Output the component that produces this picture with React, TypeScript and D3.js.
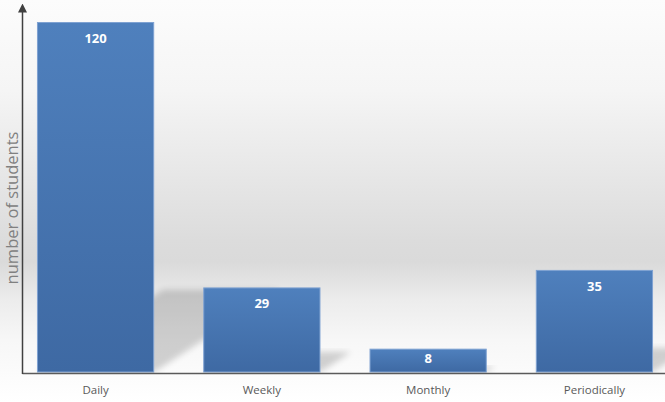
import React from "react";
import * as d3 from "d3";

const categories = ["Daily", "Weekly", "Monthly", "Periodically"];
const values = [120, 29, 8, 35];
const yTitle = "number of students";

const W = 665;
const H = 402;
const baseY = 372;
const topY = 22;
const axisX = 22.5;

export default function App() {
  const x = d3
    .scaleBand<string>()
    .domain(categories)
    .range([23, 667])
    .paddingInner(0.295)
    .paddingOuter(0.084);
  const y = d3.scaleLinear().domain([0, 120]).range([baseY, topY]);

  const k = 0.36; // shadow shear
  const s = 0.235; // shadow foreshortening

  return (
    <svg
      width={W}
      height={H}
      style={{ position: "absolute", left: 0, top: 0, display: "block" }}
      fontFamily="'Open Sans', sans-serif"
    >
      <defs>
        <linearGradient id="bg" x1="0" y1="0" x2="0" y2={H} gradientUnits="userSpaceOnUse">
          <stop offset={0} stopColor="#fcfcfc" />
          <stop offset={90 / H} stopColor="#f5f5f5" />
          <stop offset={240 / H} stopColor="#dcdcdc" />
          <stop offset={262 / H} stopColor="#dadada" />
          <stop offset={300 / H} stopColor="#ececec" />
          <stop offset={340 / H} stopColor="#f7f7f7" />
          <stop offset={1} stopColor="#ffffff" />
        </linearGradient>
        <linearGradient id="bar" x1="0" y1="0" x2="0" y2="1">
          <stop offset={0} stopColor="#4f80bd" />
          <stop offset={1} stopColor="#3e69a3" />
        </linearGradient>
        <filter id="blur" x="-20%" y="-20%" width="140%" height="140%">
          <feGaussianBlur stdDeviation={3} />
        </filter>
        <clipPath id="plot">
          <rect x={axisX} y={0} width={W} height={baseY + 1} />
        </clipPath>
        <marker id="arrow" viewBox="0 0 10 10" refX={5} refY={5} markerWidth={6} markerHeight={6} orient="auto">
          <path d="M0,0 L10,5 L0,10 z" fill="#404040" />
        </marker>
      </defs>
      <rect x={0} y={0} width={W} height={H} fill="url(#bg)" />

      <g clipPath="url(#plot)">
        {categories.map((c, i) => {
          const bx = x(c)!;
          const bw = x.bandwidth();
          const h = baseY - y(values[i]);
          const pts = [
            [bx, baseY],
            [bx + bw, baseY],
            [bx + bw + k * h, baseY - s * h],
            [bx + k * h, baseY - s * h],
          ];
          return (
            <polygon
              key={c + "s"}
              points={pts.map((p) => p.join(",")).join(" ")}
              fill="#000"
              opacity={0.17}
              filter="url(#blur)"
            />
          );
        })}
      </g>

      {categories.map((c, i) => {
        const bx = x(c)!;
        const bw = x.bandwidth();
        const by = y(values[i]);
        const ly = Math.min(by + 21, (by + baseY) / 2 + 3);
        return (
          <g key={c}>
            <rect
              x={bx + 0.5}
              y={by + 0.5}
              width={bw - 1}
              height={baseY - by - 0.5}
              fill="url(#bar)"
              stroke="#7fa2d2"
              strokeWidth={1}
            />
            <text
              x={bx + bw / 2}
              y={ly}
              textAnchor="middle"
              fill="#ffffff"
              fontWeight="bold"
              fontSize={13}
            >
              {values[i]}
            </text>
            <text x={bx + bw / 2} y={394} textAnchor="middle" fill="#595959" fontSize={11.5}>
              {c}
            </text>
          </g>
        );
      })}

      <line x1={axisX} y1={baseY + 1.5} x2={W} y2={baseY + 1.5} stroke="#5a5a5a" strokeWidth={1.5} />
      <line
        x1={axisX}
        y1={baseY + 2}
        x2={axisX}
        y2={8}
        stroke="#404040"
        strokeWidth={1.5}
        markerEnd="url(#arrow)"
      />

      <text
        transform={`translate(18,208) rotate(-90)`}
        textAnchor="middle"
        fill="#808080"
        fontSize={16.5}
      >
        {yTitle}
      </text>
    </svg>
  );
}
